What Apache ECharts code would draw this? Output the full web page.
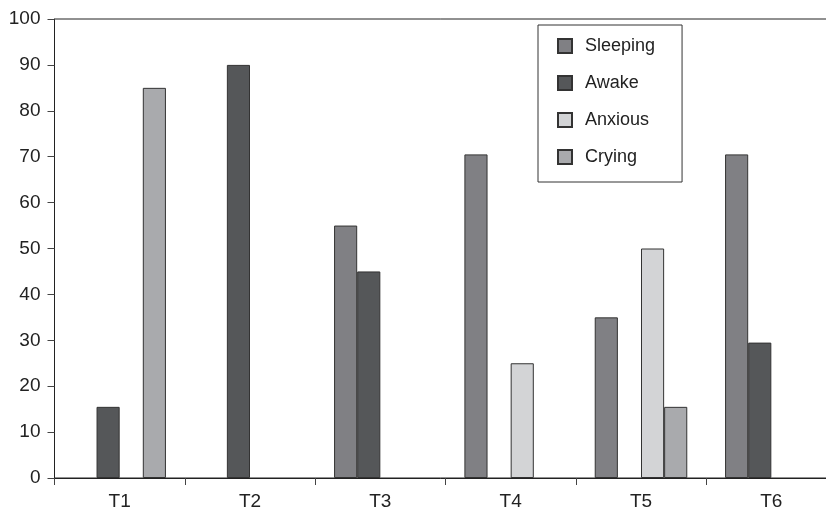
<!DOCTYPE html>
<html>
<head>
<meta charset="utf-8">
<script src="https://cdn.jsdelivr.net/npm/echarts@6/dist/echarts.min.js"></script>
<style>html,body{margin:0;padding:0;background:#fff;overflow:hidden}#c{width:826px;height:520px}</style>
</head>
<body>
<div id="c"></div>
<script>
const categories = ['T1','T2','T3','T4','T5','T6'];
const sleeping = [null, null, 55, 70.5, 35, 70.5];
const awake    = [15.5, 90, 45, null, null, 29.5];
const anxious  = [null, null, null, 25, 50, null];
const crying   = [85, null, null, null, 15.5, null];
const seriesNames = ['Sleeping','Awake','Anxious','Crying'];
const yTicks = [0,10,20,30,40,50,60,70,80,90,100];

const colors = ['#808084','#555759','#d3d4d6','#a9aaad'];
const font = 'Liberation Sans, Arial, sans-serif';
const dataSets = [sleeping, awake, anxious, crying];

const chart = echarts.init(document.getElementById('c'));
chart.setOption({
  animation: false,
  grid: { left: 54.5, width: 782, top: 19, height: 459, outerBoundsMode: 'none', containLabel: false,
          show: true, borderColor: '#222', borderWidth: 1 },
  legend: {
    orient: 'vertical', left: 538, top: 25,
    itemWidth: 14, itemHeight: 14, itemGap: 19,
    padding: [12, 27, 16, 19],
    borderColor: '#333', borderWidth: 1, backgroundColor: '#fff',
    textStyle: { fontFamily: font, fontSize: 18, color: '#222', padding: [0,0,0,8] },
    icon: 'rect',
    data: seriesNames
  },
  xAxis: {
    type: 'category', data: categories,
    axisLine: { lineStyle: { color: '#222', width: 1 } },
    axisTick: { show: true, length: 7, lineStyle: { color: '#444' } },
    axisLabel: { fontFamily: font, fontSize: 19, color: '#222', margin: 14 }
  },
  yAxis: {
    type: 'value', min: yTicks[0], max: yTicks[yTicks.length-1], interval: 10,
    splitLine: { show: false },
    axisLine: { show: true, lineStyle: { color: '#222', width: 1 } },
    axisTick: { show: true, length: 7, lineStyle: { color: '#444' } },
    axisLabel: { fontFamily: font, fontSize: 19, color: '#222', margin: 14 }
  },
  series: seriesNames.map((n, i) => ({
    name: n, type: 'bar', data: dataSets[i],
    barGap: '0%', barCategoryGap: '29%',
    itemStyle: { color: colors[i], borderColor: '#333', borderWidth: 1 }
  }))
});
</script>
</body>
</html>
